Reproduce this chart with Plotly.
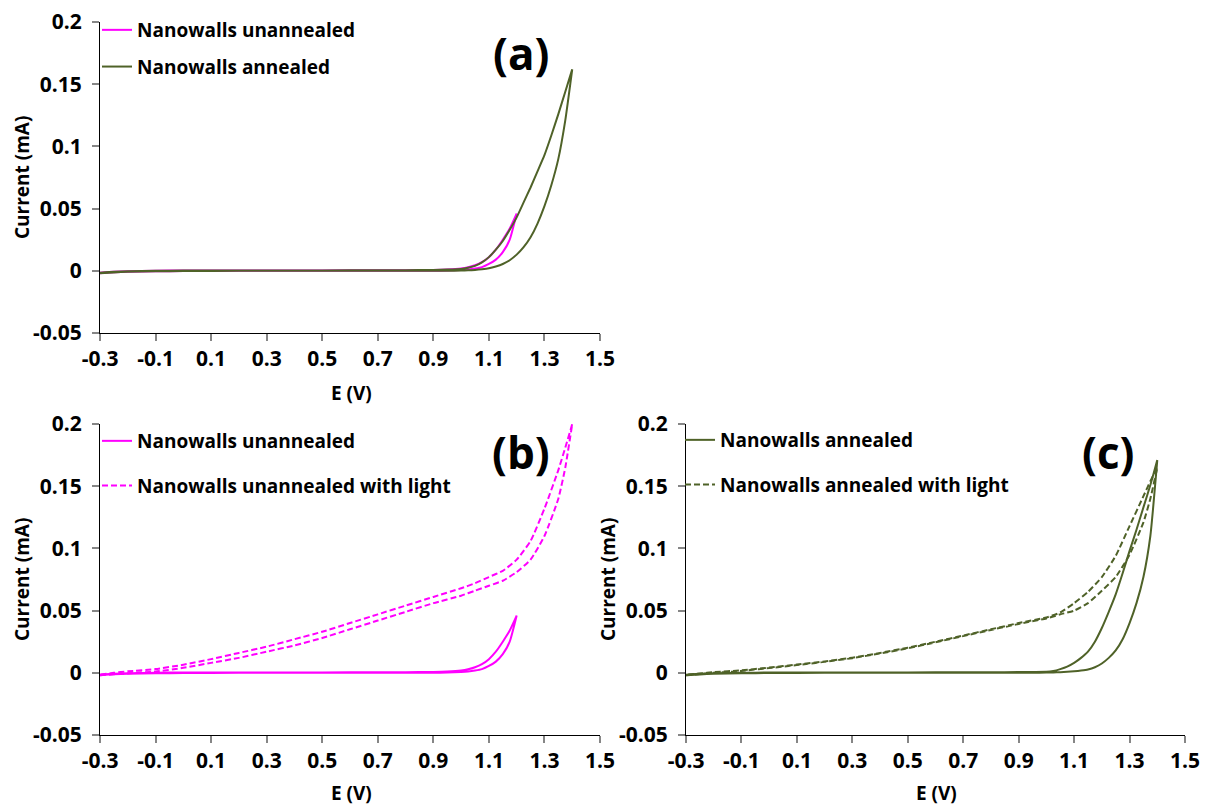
import plotly.graph_objects as go

# ---------------- data ----------------
# Nanowalls unannealed (dark), used in (a) and (b)
E_un = [-0.3, -0.25, -0.2, -0.1, 0.0, 0.2, 0.4, 0.6, 0.8, 0.9, 0.95, 1.0, 1.025, 1.05, 1.075,
        1.1, 1.125, 1.15, 1.175, 1.2]
I_un_fwd = [-0.002, -0.0012, -0.0008, -0.0004, -0.0002, 0.0, 0.0, 0.0, 0.0, 0.0001, 0.0002, 0.0006,
            0.001, 0.0018, 0.003, 0.0055, 0.009, 0.015, 0.025, 0.046]
I_un_rev = [-0.0015, -0.0008, -0.0004, 0.0001, 0.0002, 0.0003, 0.0003, 0.0004, 0.0005, 0.0007, 0.001,
            0.0018, 0.0028, 0.0045, 0.007, 0.011, 0.017, 0.025, 0.034, 0.046]

# Nanowalls annealed (dark), panel (a)
E_an = [-0.3, -0.25, -0.2, -0.1, 0.0, 0.2, 0.4, 0.6, 0.8, 0.9, 0.95, 1.0, 1.025, 1.05, 1.075, 1.1,
        1.125, 1.15, 1.175, 1.2, 1.225, 1.25, 1.275, 1.3, 1.325, 1.35, 1.375, 1.4]
I_an_fwd = [-0.002, -0.0013, -0.0008, -0.0004, -0.0002, 0.0, 0.0, 0.0, 0.0, 0.0, 0.0001, 0.0002,
            0.0004, 0.0007, 0.0012, 0.002, 0.0035, 0.0055, 0.0085, 0.013, 0.019, 0.027, 0.038,
            0.052, 0.069, 0.09, 0.121, 0.162]
I_an_rev = [-0.0015, -0.0008, -0.0004, 0.0, 0.0002, 0.0003, 0.0003, 0.0004, 0.0005, 0.0007, 0.001,
            0.0015, 0.0025, 0.004, 0.0068, 0.011, 0.017, 0.024, 0.033, 0.043, 0.055, 0.067, 0.08,
            0.093, 0.109, 0.126, 0.144, 0.162]

# Nanowalls annealed (dark), panel (c)
I_anc_fwd = [-0.002, -0.0013, -0.0008, -0.0004, -0.0002, 0.0, 0.0, 0.0, 0.0, 0.0, 0.0001, 0.0002,
             0.0003, 0.0005, 0.0008, 0.0012, 0.0018, 0.0027, 0.0045, 0.0075, 0.012, 0.018, 0.027,
             0.040, 0.056, 0.077, 0.11, 0.171]
I_anc_rev = [-0.0015, -0.0008, -0.0004, 0.0, 0.0002, 0.0003, 0.0003, 0.0004, 0.0005, 0.0006, 0.0007,
             0.0008, 0.0015, 0.003, 0.005, 0.008, 0.012, 0.017, 0.025, 0.036, 0.049, 0.063, 0.08,
             0.098, 0.115, 0.133, 0.151, 0.171]

# Nanowalls unannealed with light, panel (b)
E_unl = [-0.3, -0.25, -0.2, -0.1, 0.0, 0.1, 0.2, 0.3, 0.4, 0.5, 0.6, 0.7, 0.8, 0.9, 1.0, 1.05,
         1.1, 1.15, 1.2, 1.25, 1.3, 1.35, 1.375, 1.4]
I_unl_fwd = [-0.002, -0.0012, -0.0005, 0.001, 0.004, 0.008, 0.012, 0.017, 0.022, 0.028, 0.035,
             0.042, 0.049, 0.056, 0.062, 0.066, 0.070, 0.074, 0.081, 0.091, 0.110, 0.140, 0.165, 0.2]
I_unl_rev = [-0.0015, 0.0, 0.0012, 0.003, 0.0065, 0.011, 0.016, 0.021, 0.027, 0.033, 0.040, 0.047,
             0.054, 0.061, 0.068, 0.072, 0.077, 0.082, 0.091, 0.106, 0.132, 0.163, 0.181, 0.2]

# Nanowalls annealed with light, panel (c)
E_anl = [-0.3, -0.25, -0.2, -0.1, 0.0, 0.1, 0.2, 0.3, 0.4, 0.5, 0.6, 0.7, 0.8, 0.9, 1.0, 1.05,
         1.1, 1.15, 1.2, 1.25, 1.3, 1.35, 1.375, 1.4]
I_anl_fwd = [-0.002, -0.001, 0.0, 0.0015, 0.0038, 0.0062, 0.0088, 0.0118, 0.0155, 0.0197, 0.0245,
             0.0295, 0.0345, 0.0393, 0.0437, 0.047, 0.050, 0.056, 0.066, 0.077, 0.095, 0.121, 0.14,
             0.165]
I_anl_rev = [-0.0015, -0.0005, 0.0005, 0.002, 0.0042, 0.0066, 0.0092, 0.0122, 0.016, 0.0202, 0.025,
             0.030, 0.035, 0.040, 0.0445, 0.0485, 0.056, 0.065, 0.077, 0.094, 0.118, 0.142, 0.154,
             0.165]

x_tickvals = [-0.3, -0.1, 0.1, 0.3, 0.5, 0.7, 0.9, 1.1, 1.3, 1.5]
x_ticktext = ["-0.3", "-0.1", "0.1", "0.3", "0.5", "0.7", "0.9", "1.1", "1.3", "1.5"]
y_tickvals = [-0.05, 0, 0.05, 0.1, 0.15, 0.2]
y_ticktext = ["-0.05", "0", "0.05", "0.1", "0.15", "0.2"]

MAGENTA = "#FF00FF"
GREEN = "#4F6228"
FONT = "Open Sans"

# page has an 8px body margin; figure sized to fit the 1208x807 window
OFF = 8
W, H = 1200, 799


def loop(E, fwd, rev):
    return list(E) + list(E[::-1]), list(fwd) + list(rev[::-1])


fig = go.Figure()


def add(E, fwd, rev, name, color, dash, xa, ya, legend, group):
    x, y = loop(E, fwd, rev)
    fig.add_trace(go.Scatter(x=x, y=y, mode="lines", name=name,
                             line=dict(color=color, width=2, dash=dash, shape="spline",
                                       smoothing=0.5),
                             xaxis=xa, yaxis=ya, legend=legend, legendgroup=group))


add(E_un, I_un_fwd, I_un_rev, "Nanowalls unannealed", MAGENTA, "solid", "x", "y", "legend", "a1")
add(E_an, I_an_fwd, I_an_rev, "Nanowalls annealed", GREEN, "solid", "x", "y", "legend", "a2")
add(E_un, I_un_fwd, I_un_rev, "Nanowalls unannealed", MAGENTA, "solid", "x2", "y2", "legend2", "b1")
add(E_unl, I_unl_fwd, I_unl_rev, "Nanowalls unannealed with light", MAGENTA, "6px,3px", "x2", "y2", "legend2", "b2")
add(E_an, I_anc_fwd, I_anc_rev, "Nanowalls annealed", GREEN, "solid", "x3", "y3", "legend3", "c1")
add(E_anl, I_anl_fwd, I_anl_rev, "Nanowalls annealed with light", GREEN, "6px,3px", "x3", "y3", "legend3", "c2")


def px_x(p):
    return (p - OFF) / W


def px_y(p):
    return 1 - (p - OFF) / H


xdom_left = [px_x(100), px_x(600)]
xdom_right = [px_x(686), px_x(1185)]
ydom_top = [px_y(333), px_y(22)]
ydom_bot = [px_y(735), px_y(424)]

tickfont = dict(family=FONT, size=21, color="black", weight="bold")
titlefont = dict(family=FONT, size=19, color="black", weight="bold")

common_x = dict(range=[-0.3, 1.5], tickvals=x_tickvals, ticktext=x_ticktext, showgrid=False,
                zeroline=False, showline=True, linecolor="black", linewidth=1,
                ticks="outside", ticklen=7, tickcolor="#868686", tickwidth=2,
                tickfont=tickfont, automargin=False, ticklabeloverflow="allow")
common_y = dict(range=[-0.05, 0.20005], tickvals=y_tickvals, ticktext=y_ticktext, showgrid=False,
                zeroline=False, showline=True, linecolor="black", linewidth=1,
                ticks="outside", ticklen=7, tickcolor="#868686", tickwidth=2,
                tickfont=tickfont, automargin=False, ticklabelstandoff=6,
                ticklabeloverflow="allow")

legfont = dict(family=FONT, size=19, color="black", weight="bold")
legcommon = dict(font=legfont, bgcolor="rgba(0,0,0,0)", xanchor="left", yanchor="top",
                 itemwidth=30, traceorder="grouped")

annotations = []
for lbl, xc, yc in [("(a)", 521, 53), ("(b)", 521, 452), ("(c)", 1108, 452)]:
    annotations.append(dict(text=lbl, x=px_x(xc), y=px_y(yc), xref="paper", yref="paper",
                            showarrow=False, xanchor="center", yanchor="middle",
                            font=dict(family=FONT, size=44, color="black", weight="bold")))
for xc, yc in [(351, 393), (351, 793), (936, 793)]:
    annotations.append(dict(text="E (V)", x=px_x(xc), y=px_y(yc), xref="paper", yref="paper",
                            showarrow=False, xanchor="center", yanchor="middle", font=titlefont))
for xc, yc in [(22, 178), (22, 580), (608, 580)]:
    annotations.append(dict(text="Current (mA)", x=px_x(xc), y=px_y(yc), xref="paper",
                            yref="paper", showarrow=False, textangle=-90,
                            xanchor="center", yanchor="middle", font=titlefont))

fig.update_layout(
    width=W, height=H, margin=dict(l=0, r=0, t=0, b=0),
    paper_bgcolor="white", plot_bgcolor="white",
    xaxis=dict(domain=xdom_left, anchor="y", **common_x),
    yaxis=dict(domain=ydom_top, anchor="x", **common_y),
    xaxis2=dict(domain=xdom_left, anchor="y2", **common_x),
    yaxis2=dict(domain=ydom_bot, anchor="x2", **common_y),
    xaxis3=dict(domain=xdom_right, anchor="y3", **common_x),
    yaxis3=dict(domain=ydom_bot, anchor="x3", **common_y),
    legend=dict(x=px_x(97), y=px_y(11), tracegroupgap=9, **legcommon),
    legend2=dict(x=px_x(97), y=px_y(422), tracegroupgap=17, **legcommon),
    legend3=dict(x=px_x(680), y=px_y(421), tracegroupgap=17, **legcommon),
    annotations=annotations,
)

fig.write_html("out.html")
